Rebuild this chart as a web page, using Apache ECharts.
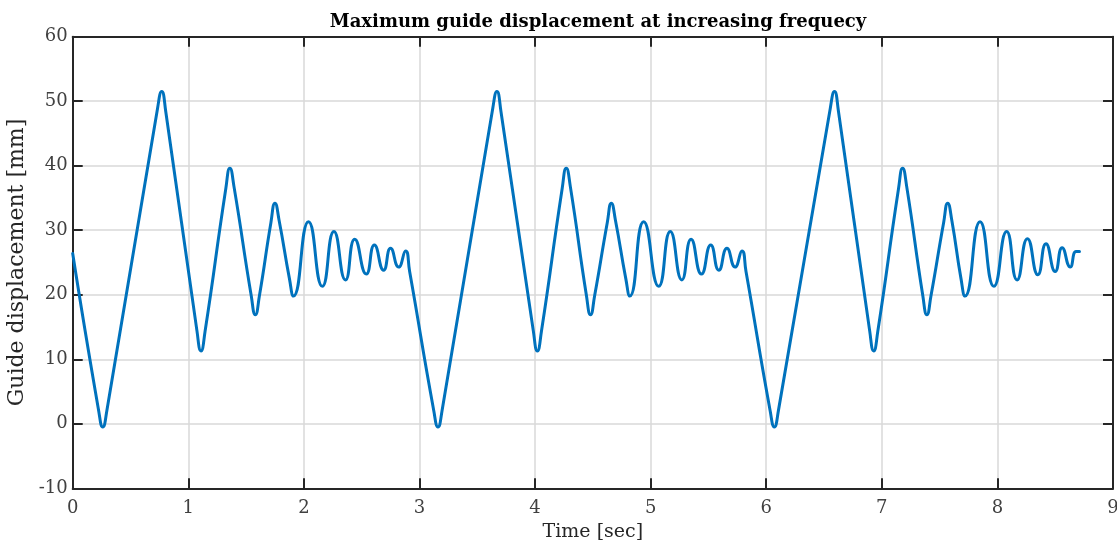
<!DOCTYPE html>
<html>
<head>
<meta charset="utf-8">
<script src="https://cdn.jsdelivr.net/npm/echarts@6/dist/echarts.min.js"></script>
<style>
  html, body { margin: 0; padding: 0; background: #ffffff; }
  #chart { width: 1117px; height: 544px; }
</style>
</head>
<body>
<div id="chart"></div>
<script>
// ---- data (time in s, guide displacement in mm) ----
var cycle1Time = [0, 0.225, 0.26, 0.295, 0.735, 0.77, 0.805, 1.075, 1.11, 1.145, 1.325, 1.36, 1.395, 1.545, 1.58, 1.615, 1.715, 1.75, 1.785, 1.875, 1.91, 2.04, 2.16, 2.26, 2.36, 2.44, 2.54, 2.61, 2.69, 2.75, 2.82, 2.88, 2.915, 3.125];
var cycle1Disp = [26.4, 2.0, -0.5, 2.0, 49.0, 51.5, 48.4, 14.4, 11.3, 14.3, 36.5, 39.6, 36.8, 19.8, 16.9, 19.8, 31.2, 34.2, 31.6, 22.5, 19.8, 31.3, 21.3, 29.8, 22.3, 28.6, 23.2, 27.7, 23.8, 27.2, 24.3, 26.8, 23.6, 1.9];

var cycle2Time = [3.16, 3.195, 3.635, 3.67, 3.705, 3.985, 4.02, 4.055, 4.235, 4.27, 4.305, 4.445, 4.48, 4.515, 4.625, 4.66, 4.695, 4.785, 4.82, 4.94, 5.07, 5.17, 5.27, 5.35, 5.44, 5.52, 5.59, 5.66, 5.73, 5.79, 5.825, 6.035];
var cycle2Disp = [-0.5, 2.0, 49.0, 51.5, 48.4, 14.4, 11.3, 14.3, 36.5, 39.6, 36.8, 19.8, 16.9, 19.8, 31.2, 34.2, 31.6, 22.5, 19.8, 31.3, 21.3, 29.8, 22.3, 28.6, 23.2, 27.7, 23.8, 27.2, 24.3, 26.8, 23.6, 1.9];

var cycle3Time = [6.07, 6.105, 6.555, 6.59, 6.625, 6.895, 6.93, 6.965, 7.145, 7.18, 7.215, 7.355, 7.39, 7.425, 7.535, 7.57, 7.605, 7.685, 7.72, 7.85, 7.97, 8.08, 8.17, 8.26, 8.35, 8.42, 8.50, 8.56, 8.63, 8.68, 8.71];
var cycle3Disp = [-0.5, 2.0, 49.0, 51.5, 48.4, 14.4, 11.3, 14.3, 36.5, 39.6, 36.8, 19.8, 16.9, 19.8, 31.2, 34.2, 31.6, 22.5, 19.8, 31.3, 21.3, 29.8, 22.3, 28.7, 23.1, 27.9, 23.6, 27.3, 24.3, 26.7, 26.7];

var xTicks = [0, 1, 2, 3, 4, 5, 6, 7, 8, 9];
var yTicks = [-10, 0, 10, 20, 30, 40, 50, 60];

var titleText = 'Maximum guide displacement at increasing frequecy';
var xName = 'Time [sec]';
var yName = 'Guide displacement [mm]';

// build series data from the arrays
var allTime = cycle1Time.concat(cycle2Time, cycle3Time);
var allDisp = cycle1Disp.concat(cycle2Disp, cycle3Disp);
var seriesData = allTime.map(function (t, i) { return [t, allDisp[i]]; });

var FONT = 'DejaVu Serif';
var AX = '#262626';

var chart = echarts.init(document.getElementById('chart'), null, { renderer: 'canvas' });
chart.setOption({
  animation: false,
  backgroundColor: '#ffffff',
  title: {
    text: titleText,
    left: 593, top: 8, textAlign: 'center',
    textStyle: { fontFamily: FONT, fontWeight: 'bold', fontSize: 18, color: '#000000' }
  },
  grid: { left: 72.7, right: 4, top: 36.7, bottom: 55.7, containLabel: false, outerBoundsMode: 'none' },
  xAxis: [{
    type: 'value', min: xTicks[0], max: xTicks[xTicks.length - 1], interval: 1,
    name: xName, nameLocation: 'middle', nameGap: 34,
    nameTextStyle: { fontFamily: FONT, fontSize: 19, color: AX },
    axisLine: { show: true, onZero: false, lineStyle: { color: AX, width: 2 } },
    axisTick: { show: true, inside: true, length: 10, lineStyle: { color: AX, width: 2 } },
    axisLabel: { fontFamily: FONT, fontSize: 18, color: '#404040', margin: 11 },
    splitLine: { show: true, lineStyle: { color: '#d9d9d9', width: 1.5 } }
  }, {
    type: 'value', position: 'top', min: xTicks[0], max: xTicks[xTicks.length - 1], interval: 1,
    axisLine: { show: true, onZero: false, lineStyle: { color: AX, width: 2 } },
    axisTick: { show: true, inside: true, length: 10, lineStyle: { color: AX, width: 2 } },
    axisLabel: { show: false }, splitLine: { show: false }
  }],
  yAxis: [{
    type: 'value', min: yTicks[0], max: yTicks[yTicks.length - 1], interval: 10,
    name: yName, nameLocation: 'middle', nameGap: 36,
    nameTextStyle: { fontFamily: FONT, fontSize: 22, color: AX },
    axisLine: { show: true, onZero: false, lineStyle: { color: AX, width: 2 } },
    axisTick: { show: true, inside: true, length: 10, lineStyle: { color: AX, width: 2 } },
    axisLabel: { fontFamily: FONT, fontSize: 18, color: '#404040', margin: 5 },
    splitLine: { show: true, lineStyle: { color: '#d9d9d9', width: 1.5 } }
  }, {
    type: 'value', position: 'right', min: yTicks[0], max: yTicks[yTicks.length - 1], interval: 10,
    axisLine: { show: true, onZero: false, lineStyle: { color: AX, width: 2 } },
    axisTick: { show: true, inside: true, length: 10, lineStyle: { color: AX, width: 2 } },
    axisLabel: { show: false }, splitLine: { show: false }
  }],
  series: [{
    type: 'line',
    xAxisIndex: 0, yAxisIndex: 0,
    data: seriesData,
    showSymbol: false,
    smooth: 0.55,
    lineStyle: { color: '#0072BD', width: 3, join: 'round', cap: 'round' },
    z: 5
  }]
});
</script>
</body>
</html>
